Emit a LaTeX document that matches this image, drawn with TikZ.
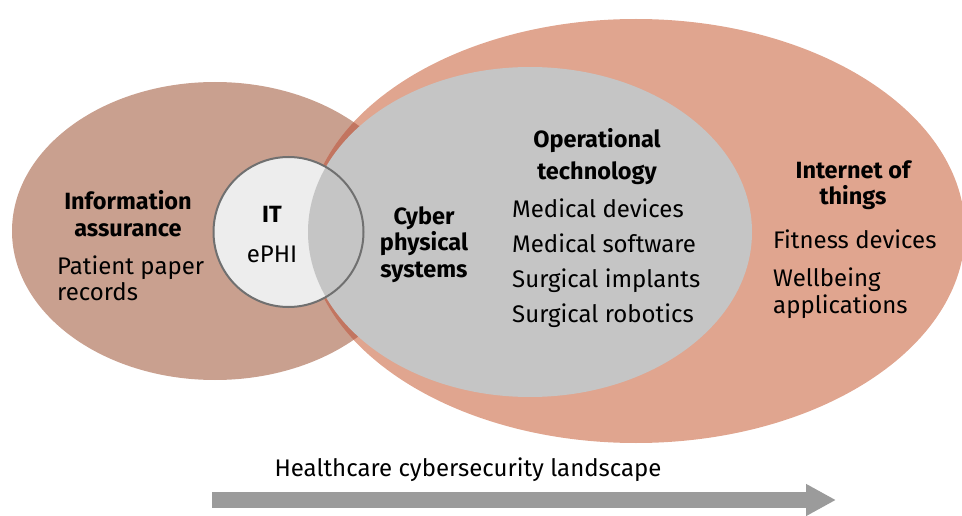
\documentclass[tikz,border=0pt]{standalone}
\usepackage{fontspec}
\setmainfont{Fira Sans}
\usetikzlibrary{arrows.meta}
\definecolor{assurefill}{HTML}{C9A08F}
\definecolor{iotfill}{HTML}{E0A58F}
\definecolor{overlapfill}{HTML}{C27560}
\definecolor{otfill}{HTML}{C5C5C5}
\definecolor{itfill}{HTML}{EDEDED}
\definecolor{itline}{HTML}{707070}
\definecolor{arrowgray}{HTML}{9B9B9B}

\begin{document}
\begin{tikzpicture}[x=1pt,y=-1pt,
  hdr/.style={font=\fontsize{23.5}{26.5}\selectfont\bfseries,align=center,inner sep=0pt},
  txt/.style={font=\fontsize{24}{26.5}\selectfont,align=left,inner sep=0pt}]
\useasboundingbox (0,0) rectangle (962,516);
\fill[assurefill] (215,231) ellipse [x radius=203,y radius=149];
\fill[iotfill] (636,231) ellipse [x radius=329,y radius=212];
\begin{scope}
\clip (215,231) ellipse [x radius=203,y radius=149];
\fill[overlapfill] (636,231) ellipse [x radius=329,y radius=212];
\end{scope}
\fill[itfill] (288.5,232) circle (75);
\fill[otfill] (530,232) ellipse [x radius=222,y radius=165];
\draw[itline,line width=2pt] (288.5,232) circle (75);
\node[hdr,anchor=north] (infoas) at (128,190.5) {Information\\assurance};
\node[txt,anchor=north west] (paper) at (57,255.5) {Patient paper\\records};
\node[hdr,anchor=north] (it) at (272,206.5) {IT};
\node[txt,anchor=north] (ephi) at (272,246) {ePHI};
\node[hdr,anchor=north] (cps) at (424,206) {Cyber\\physical\\systems};
\node[hdr,anchor=north,font=\fontsize{23.5}{32}\selectfont\bfseries] (ot) at (597,128) {Operational\\technology};
\node[txt,anchor=north west,font=\fontsize{24}{34.7}\selectfont] (medlist) at (512,199)
  {Medical devices\\Medical software\\Surgical implants\\Surgical robotics};
\node[hdr,anchor=north] (iot) at (853,160) {Internet of\\things};
\node[txt,anchor=north west] (fit) at (773,230) {Fitness devices};
\node[txt,anchor=north west] (well) at (773,268) {Wellbeing\\applications};
\node[txt,anchor=north] (land) at (468,457.5) {Healthcare cybersecurity landscape};
\coordinate (arrstart) at (212,500);
\coordinate (arrend) at (836,500);
\draw[arrowgray,line width=16pt,-{Triangle[length=30pt,width=30pt]}] (arrstart) -- (arrend);
\end{tikzpicture}
\end{document}
